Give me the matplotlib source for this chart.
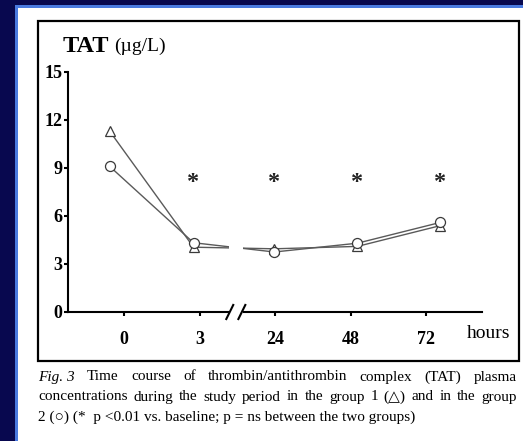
import matplotlib
matplotlib.use("Agg")
import matplotlib.pyplot as plt
from matplotlib.patches import Rectangle

plt.rcParams['font.family'] = ['Liberation Serif', 'DejaVu Sans']

# Data
hour_labels = ['0', '3', '24', '48', '72']
tick_pos = [0, 1, 2, 3, 4]
x_pts = [-0.19, 0.92, 1.99, 3.09, 4.19]      # where the points sit along the axis
group1 = [11.3, 4.05, 3.95, 4.1, 5.4]        # triangles
group2 = [9.1, 4.33, 3.75, 4.3, 5.6]         # circles
star_x = [0.92, 1.99, 3.09, 4.19]
star_level = 7.75
y_ticks = [0, 3, 6, 9, 12, 15]

W, H = 523, 441
fig = plt.figure(figsize=(W / 100, H / 100), dpi=100, facecolor='#08084f')


def px(x, y):
    return x / W, 1 - y / H


# slide background: blue stripe, white panel, black frame around the chart
fig.add_artist(Rectangle(px(15, H), (W - 15) / W, (H - 5) / H,
                         transform=fig.transFigure, facecolor='#4a7ae0',
                         edgecolor='none', zorder=-3))
fig.add_artist(Rectangle(px(18, H), (W - 18) / W, (H - 8) / H,
                         transform=fig.transFigure, facecolor='white',
                         edgecolor='none', zorder=-2))
fig.add_artist(Rectangle(px(38, 361), (519 - 38) / W, (361 - 21) / H,
                         transform=fig.transFigure, facecolor='none',
                         edgecolor='black', linewidth=1.6, zorder=-1))

ax = fig.add_axes([68 / W, 1 - 312 / H, (482 - 68) / W, (312 - 72) / H])
ax.set_facecolor('none')

ax.plot(x_pts, group1, color='#5a5a5a', lw=1.0, marker='^', markersize=7.5,
        markerfacecolor='white', markeredgecolor='#3a3a3a', markeredgewidth=0.9)
ax.plot(x_pts, group2, color='#5a5a5a', lw=1.0, marker='o', markersize=7.2,
        markerfacecolor='white', markeredgecolor='#3a3a3a', markeredgewidth=0.9)

for sx in star_x:
    ax.text(sx, star_level, '*', ha='center', va='baseline', fontsize=17.5,
            fontweight='bold', color='#222222')

ax.set_xlim(-0.742, 4.74)
ax.set_ylim(0, 15)
ax.set_xticks(tick_pos)
ax.set_xticklabels(hour_labels)
ax.set_yticks(y_ticks)
for s in ['top', 'right']:
    ax.spines[s].set_visible(False)
for s in ['left', 'bottom']:
    ax.spines[s].set_linewidth(1.5)
ax.tick_params(axis='x', direction='out', length=3, width=1.5, pad=11,
               labelsize=13)
ax.tick_params(axis='y', direction='out', length=3, width=1.5, pad=1,
               labelsize=13)
for lab in ax.get_xticklabels() + ax.get_yticklabels():
    lab.set_fontweight('bold')

# axis break between 3 and 24 hours
ax.add_patch(Rectangle((1.385, -0.25), 0.195, 14, facecolor='white',
                       edgecolor='none', zorder=3, clip_on=False))
for bx in (1.40, 1.56):
    ax.plot([bx - 0.046, bx + 0.046], [-0.44, 0.44], color='black', lw=1.5,
            zorder=4, clip_on=False)

# title and axis unit texts
fig.text(*px(63, 52), 'TAT', fontsize=17.5, fontweight='bold', va='baseline')
fig.text(*px(114, 51), '(\u00b5g/L)', fontsize=14, va='baseline')
fig.text(*px(467, 338), 'hours', fontsize=14, va='baseline')

# caption, first two lines justified
caption_lines = [
    ['Fig. 3', 'Time', 'course', 'of', 'thrombin/antithrombin', 'complex',
     '(TAT)', 'plasma'],
    ['concentrations', 'during', 'the', 'study', 'period', 'in', 'the',
     'group', '1', '(\u25b3)', 'and', 'in', 'the', 'group'],
]
last_line = '2 (\u25cb) (*  p <0.01 vs. baseline; p = ns between the two groups)'
cap_left, cap_right = 38, 517
cap_base = [380.5, 400.5, 420.5]
cap_size = 11

renderer = fig.canvas.get_renderer()
for words, yb in zip(caption_lines, cap_base):
    texts = []
    for w in words:
        style = 'italic' if w.startswith('Fig') else 'normal'
        texts.append(fig.text(0, 1 - yb / H, w, fontsize=cap_size,
                              style=style, va='baseline'))
    widths = [t.get_window_extent(renderer).width for t in texts]
    gap = (cap_right - cap_left - sum(widths)) / (len(words) - 1)
    x = cap_left
    for t, wd in zip(texts, widths):
        t.set_x(x / W)
        x += wd + gap
fig.text(*px(cap_left, cap_base[2]), last_line, fontsize=cap_size,
         va='baseline')

fig.savefig('out.png', dpi=100, facecolor=fig.get_facecolor())
